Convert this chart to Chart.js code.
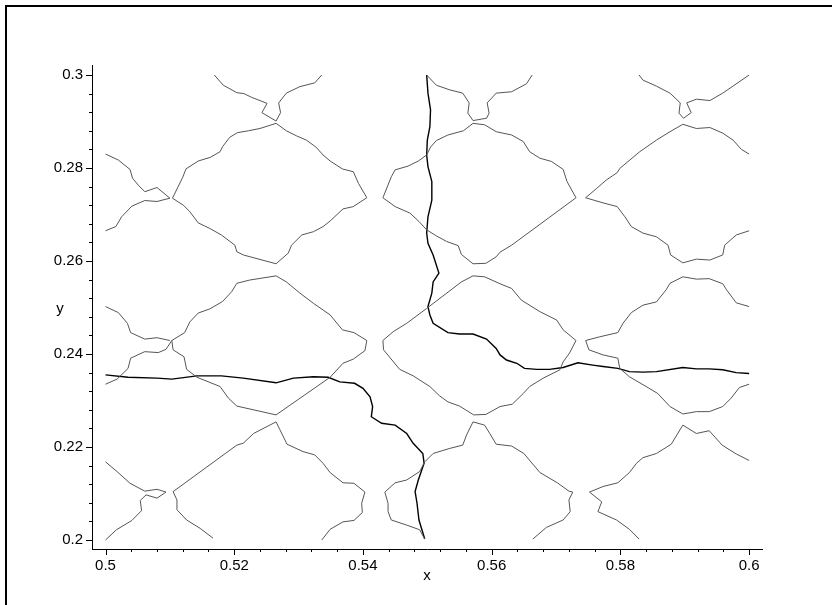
<!DOCTYPE html>
<html>
<head>
<meta charset="utf-8">
<script src="https://cdn.jsdelivr.net/npm/chart.js@4/dist/chart.umd.min.js"></script>
<style>
    html, body { margin: 0; padding: 0; background: #fff; overflow: hidden; }
    #wrap { position: relative; width: 832px; height: 605px; }
    #plot { position: absolute; left: 0; top: 0; }
    #frame {
        position: absolute; left: 5px; top: 5px; width: 900px; height: 700px;
        border: 2px solid #000; pointer-events: none;
    }
</style>
</head>
<body>
<div id="wrap">
    <canvas id="plot" width="832" height="605"></canvas>
    <div id="frame"></div>
</div>
<script>
// Axis ranges and tick labels
const xRange = [0.4979, 0.602];
const yRange = [0.19806, 0.30215];
const xMajorTicks = [0.5, 0.52, 0.54, 0.56, 0.58, 0.6];
const yMajorTicks = [0.2, 0.22, 0.24, 0.26, 0.28, 0.3];
const minorStep = 0.004;

// Level curves (grey) as [x, y]
const cupLeft = [[0.5169,0.3000],[0.5183,0.2978],[0.5204,0.2962],[0.5215,0.2960],[0.5227,0.2952],[0.5251,0.2939],[0.5243,0.2919],[0.5265,0.2901],[0.5272,0.2919],[0.5269,0.2940],[0.5281,0.2961],[0.5302,0.2975],[0.5325,0.2983],[0.5336,0.3000]];
const cupMiddle = [[0.5499,0.3000],[0.5514,0.2978],[0.5535,0.2968],[0.5555,0.2961],[0.5565,0.2940],[0.5563,0.2918],[0.5571,0.2902],[0.5592,0.2907],[0.5596,0.2918],[0.5593,0.2940],[0.5607,0.2961],[0.5631,0.2964],[0.5654,0.2981],[0.5663,0.3000]];
const cupRight = [[0.5829,0.3000],[0.5835,0.2989],[0.5856,0.2976],[0.5877,0.2961],[0.5893,0.2940],[0.5891,0.2918],[0.5898,0.2907],[0.5910,0.2919],[0.5903,0.2940],[0.5918,0.2948],[0.5939,0.2945],[0.5959,0.2961],[0.6000,0.3000]];

const topLeftDiamond = [[0.5104,0.2735],[0.5120,0.2780],[0.5125,0.2798],[0.5144,0.2815],[0.5163,0.2823],[0.5178,0.2835],[0.5182,0.2846],[0.5193,0.2866],[0.5205,0.2876],[0.5222,0.2880],[0.5240,0.2885],[0.5265,0.2896],[0.5281,0.2880],[0.5297,0.2869],[0.5312,0.2860],[0.5327,0.2845],[0.5338,0.2828],[0.5349,0.2815],[0.5368,0.2798],[0.5385,0.2792],[0.5393,0.2767],[0.5406,0.2736],[0.5385,0.2717],[0.5369,0.2712],[0.5349,0.2686],[0.5338,0.2674],[0.5323,0.2663],[0.5305,0.2656],[0.5289,0.2634],[0.5284,0.2617],[0.5265,0.2594],[0.5214,0.2613],[0.5204,0.2620],[0.5201,0.2634],[0.5180,0.2656],[0.5162,0.2670],[0.5144,0.2682],[0.5131,0.2706],[0.5121,0.2720],[0.5104,0.2735]];
const topMidDiamond = [[0.5431,0.2736],[0.5444,0.2781],[0.5450,0.2796],[0.5470,0.2804],[0.5486,0.2815],[0.5499,0.2828],[0.5505,0.2845],[0.5514,0.2859],[0.5532,0.2871],[0.5556,0.2880],[0.5571,0.2896],[0.5589,0.2893],[0.5607,0.2878],[0.5631,0.2871],[0.5649,0.2857],[0.5659,0.2835],[0.5675,0.2821],[0.5693,0.2814],[0.5711,0.2797],[0.5717,0.2771],[0.5731,0.2736],[0.5631,0.2634],[0.5613,0.2619],[0.5607,0.2609],[0.5591,0.2595],[0.5571,0.2594],[0.5553,0.2614],[0.5548,0.2633],[0.5530,0.2642],[0.5514,0.2654],[0.5499,0.2667],[0.5487,0.2685],[0.5473,0.2703],[0.5450,0.2717],[0.5431,0.2736]];
const topRightDiamond = [[0.6000,0.2830],[0.5988,0.2840],[0.5975,0.2860],[0.5959,0.2875],[0.5939,0.2887],[0.5918,0.2885],[0.5897,0.2894],[0.5877,0.2878],[0.5856,0.2860],[0.5830,0.2835],[0.5799,0.2799],[0.5795,0.2790],[0.5778,0.2774],[0.5763,0.2756],[0.5746,0.2736],[0.5773,0.2725],[0.5795,0.2717],[0.5807,0.2695],[0.5817,0.2674],[0.5835,0.2660],[0.5856,0.2652],[0.5874,0.2634],[0.5878,0.2613],[0.5897,0.2596],[0.5918,0.2604],[0.5939,0.2602],[0.5959,0.2613],[0.5962,0.2634],[0.5980,0.2656],[0.6000,0.2665]];

const pinchTopUpper = [[0.5000,0.2830],[0.5020,0.2817],[0.5038,0.2797],[0.5042,0.2778],[0.5051,0.2763],[0.5061,0.2749],[0.5080,0.2758],[0.5100,0.2735]];
const pinchTopLower = [[0.5000,0.2665],[0.5016,0.2674],[0.5025,0.2695],[0.5041,0.2718],[0.5061,0.2730],[0.5080,0.2728],[0.5100,0.2735]];
const pinchMidUpper = [[0.5000,0.2502],[0.5020,0.2489],[0.5034,0.2466],[0.5039,0.2446],[0.5061,0.2432],[0.5080,0.2435],[0.5100,0.2429]];
const pinchMidLower = [[0.5000,0.2335],[0.5018,0.2346],[0.5035,0.2369],[0.5039,0.2391],[0.5061,0.2405],[0.5082,0.2403],[0.5094,0.2410],[0.5103,0.2429]];
const pinchLow = [[0.5000,0.2168],[0.5018,0.2147],[0.5038,0.2122],[0.5061,0.2105],[0.5080,0.2109],[0.5094,0.2103],[0.5080,0.2090],[0.5063,0.2097],[0.5054,0.2085],[0.5056,0.2063],[0.5041,0.2042],[0.5017,0.2022],[0.5000,0.2000]];

const midLeftDiamond = [[0.5103,0.2429],[0.5123,0.2446],[0.5131,0.2469],[0.5144,0.2488],[0.5162,0.2497],[0.5182,0.2513],[0.5196,0.2534],[0.5204,0.2552],[0.5224,0.2559],[0.5265,0.2568],[0.5281,0.2555],[0.5302,0.2531],[0.5323,0.2509],[0.5349,0.2484],[0.5368,0.2452],[0.5386,0.2446],[0.5406,0.2429],[0.5403,0.2407],[0.5385,0.2389],[0.5369,0.2380],[0.5349,0.2350],[0.5265,0.2269],[0.5204,0.2288],[0.5191,0.2305],[0.5178,0.2330],[0.5142,0.2350],[0.5126,0.2367],[0.5122,0.2394],[0.5105,0.2409],[0.5103,0.2429]];
const midCenterDiamond = [[0.5431,0.2429],[0.5447,0.2448],[0.5468,0.2466],[0.5499,0.2498],[0.5553,0.2555],[0.5571,0.2568],[0.5589,0.2566],[0.5613,0.2551],[0.5631,0.2541],[0.5646,0.2516],[0.5675,0.2491],[0.5701,0.2473],[0.5711,0.2452],[0.5731,0.2429],[0.5721,0.2402],[0.5711,0.2383],[0.5706,0.2366],[0.5680,0.2348],[0.5659,0.2330],[0.5649,0.2315],[0.5632,0.2292],[0.5613,0.2287],[0.5591,0.2270],[0.5572,0.2269],[0.5550,0.2288],[0.5532,0.2297],[0.5519,0.2310],[0.5504,0.2330],[0.5478,0.2353],[0.5457,0.2367],[0.5432,0.2409],[0.5431,0.2429]];
const midRightDiamond = [[0.6000,0.2502],[0.5980,0.2510],[0.5965,0.2538],[0.5959,0.2551],[0.5938,0.2562],[0.5918,0.2561],[0.5897,0.2566],[0.5877,0.2552],[0.5871,0.2538],[0.5856,0.2512],[0.5835,0.2505],[0.5817,0.2489],[0.5804,0.2466],[0.5796,0.2446],[0.5768,0.2437],[0.5746,0.2429],[0.5751,0.2409],[0.5773,0.2398],[0.5796,0.2391],[0.5799,0.2369],[0.5814,0.2351],[0.5840,0.2330],[0.5858,0.2315],[0.5877,0.2287],[0.5897,0.2271],[0.5918,0.2276],[0.5938,0.2276],[0.5959,0.2287],[0.5972,0.2305],[0.5985,0.2328],[0.6000,0.2335]];

const lowLeftDiamond = [[0.5167,0.2004],[0.5147,0.2025],[0.5126,0.2043],[0.5111,0.2065],[0.5111,0.2086],[0.5105,0.2104],[0.5204,0.2204],[0.5214,0.2208],[0.5230,0.2229],[0.5265,0.2254],[0.5271,0.2237],[0.5282,0.2206],[0.5307,0.2190],[0.5325,0.2183],[0.5338,0.2165],[0.5349,0.2145],[0.5369,0.2123],[0.5386,0.2122],[0.5403,0.2103],[0.5398,0.2079],[0.5399,0.2059],[0.5386,0.2042],[0.5369,0.2039],[0.5349,0.2023],[0.5336,0.2000]];
const lowCenterDiamond = [[0.5496,0.2002],[0.5488,0.2022],[0.5468,0.2032],[0.5444,0.2043],[0.5439,0.2061],[0.5439,0.2079],[0.5434,0.2103],[0.5450,0.2123],[0.5468,0.2129],[0.5488,0.2147],[0.5496,0.2168],[0.5509,0.2186],[0.5535,0.2197],[0.5555,0.2204],[0.5561,0.2226],[0.5571,0.2254],[0.5589,0.2247],[0.5597,0.2229],[0.5607,0.2206],[0.5631,0.2202],[0.5650,0.2186],[0.5675,0.2145],[0.5702,0.2123],[0.5720,0.2105],[0.5726,0.2103],[0.5720,0.2086],[0.5722,0.2061],[0.5711,0.2043],[0.5685,0.2027],[0.5664,0.2002]];
const lowRightDiamond = [[0.5829,0.2002],[0.5814,0.2023],[0.5794,0.2043],[0.5765,0.2061],[0.5771,0.2082],[0.5752,0.2103],[0.5773,0.2115],[0.5796,0.2123],[0.5814,0.2145],[0.5825,0.2165],[0.5835,0.2177],[0.5856,0.2186],[0.5879,0.2206],[0.5897,0.2247],[0.5918,0.2229],[0.5938,0.2235],[0.5958,0.2204],[0.5980,0.2185],[0.6000,0.2171]];

// Solution paths (black)
const pathFromTop = [[0.5499,0.3000],[0.5501,0.2961],[0.5505,0.2925],[0.5504,0.2889],[0.5500,0.2860],[0.5499,0.2828],[0.5501,0.2803],[0.5507,0.2771],[0.5507,0.2731],[0.5501,0.2695],[0.5499,0.2660],[0.5501,0.2638],[0.5509,0.2613],[0.5518,0.2574],[0.5509,0.2555],[0.5507,0.2531],[0.5501,0.2502],[0.5504,0.2484],[0.5509,0.2466],[0.5532,0.2446],[0.5550,0.2443],[0.5571,0.2443],[0.5592,0.2432],[0.5607,0.2412],[0.5613,0.2398],[0.5623,0.2387],[0.5639,0.2380],[0.5651,0.2369],[0.5670,0.2367],[0.5690,0.2367],[0.5711,0.2371],[0.5734,0.2381],[0.5757,0.2376],[0.5773,0.2373],[0.5796,0.2369],[0.5814,0.2362],[0.5835,0.2361],[0.5856,0.2362],[0.5897,0.2371],[0.5918,0.2368],[0.5938,0.2368],[0.5959,0.2366],[0.5980,0.2360],[0.6000,0.2358]];
const pathFromLeft = [[0.5000,0.2355],[0.5035,0.2350],[0.5080,0.2348],[0.5103,0.2346],[0.5142,0.2353],[0.5180,0.2353],[0.5214,0.2348],[0.5265,0.2338],[0.5292,0.2348],[0.5323,0.2351],[0.5346,0.2350],[0.5364,0.2340],[0.5387,0.2337],[0.5400,0.2326],[0.5411,0.2308],[0.5415,0.2287],[0.5413,0.2265],[0.5429,0.2251],[0.5450,0.2247],[0.5468,0.2229],[0.5478,0.2208],[0.5493,0.2186],[0.5495,0.2165],[0.5486,0.2129],[0.5481,0.2104],[0.5484,0.2079],[0.5487,0.2043],[0.5496,0.2002]];

const greyCurves = [cupLeft, cupMiddle, cupRight, topLeftDiamond, topMidDiamond, topRightDiamond,
    pinchTopUpper, pinchTopLower, pinchMidUpper, pinchMidLower, pinchLow,
    midLeftDiamond, midCenterDiamond, midRightDiamond, lowLeftDiamond, lowCenterDiamond, lowRightDiamond];
const blackCurves = [pathFromTop, pathFromLeft];

const FONT = '"Liberation Sans", Arial, sans-serif';

function curve(points, color, width) {
    return {
        data: points.map((p) => ({ x: p[0], y: p[1] })),
        showLine: true,
        borderColor: color,
        borderWidth: width,
        pointRadius: 0,
        tension: 0,
        fill: false,
    };
}

function minorTicks(majors) {
    const out = [];
    for (let i = 0; i < majors.length - 1; i++) {
        for (let k = 1; k < 5; k++) out.push(majors[i] + k * minorStep);
    }
    return out;
}

// tick marks and the two axis names
const axisDecor = {
    id: "axisDecor",
    afterDraw(chart) {
        const ctx = chart.ctx;
        const area = chart.chartArea;
        const xs = chart.scales.x;
        const ys = chart.scales.y;
        ctx.save();
        ctx.strokeStyle = "#000";
        ctx.lineWidth = 1;
        ctx.beginPath();
        const mark = (ticks, len) => {
            ticks.forEach((v) => {
                const px = Math.round(xs.getPixelForValue(v)) + 0.5;
                ctx.moveTo(px, area.bottom);
                ctx.lineTo(px, area.bottom + len);
            });
        };
        const markY = (ticks, len) => {
            ticks.forEach((v) => {
                const py = Math.round(ys.getPixelForValue(v)) + 0.5;
                ctx.moveTo(area.left, py);
                ctx.lineTo(area.left - len, py);
            });
        };
        mark(xMajorTicks, 6);
        mark(minorTicks(xMajorTicks), 3);
        markY(yMajorTicks, 6);
        markY(minorTicks(yMajorTicks), 3);
        ctx.stroke();

        ctx.fillStyle = "#000";
        ctx.font = "15px " + FONT;
        ctx.textAlign = "center";
        ctx.textBaseline = "middle";
        ctx.fillText("x", (area.left + area.right) / 2, 576);
        ctx.fillText("y", 60, 309);
        ctx.restore();
    },
};

document.addEventListener("DOMContentLoaded", function () {
    const datasets = greyCurves.map((c) => curve(c, "#555", 1))
        .concat(blackCurves.map((c) => curve(c, "#000", 1.4)));

    new Chart(document.getElementById("plot").getContext("2d"), {
        type: "scatter",
        data: { datasets: datasets },
        options: {
            responsive: false,
            devicePixelRatio: 1,
            animation: false,
            layout: { padding: { top: 65, right: 70, left: 0, bottom: 0 } },
            plugins: { legend: { display: false }, tooltip: { enabled: false } },
            scales: {
                x: {
                    type: "linear",
                    min: xRange[0],
                    max: xRange[1],
                    afterBuildTicks: (s) => { s.ticks = xMajorTicks.map((v) => ({ value: v })); },
                    afterFit: (s) => { s.height = 56; },
                    grid: { display: false, drawTicks: false },
                    border: { display: true, color: "#000", width: 1 },
                    ticks: {
                        color: "#000",
                        padding: 8,
                        maxRotation: 0,
                        autoSkip: false,
                        font: { size: 15, family: FONT },
                        callback: (v) => String(v),
                    },
                },
                y: {
                    type: "linear",
                    min: yRange[0],
                    max: yRange[1],
                    afterBuildTicks: (s) => { s.ticks = yMajorTicks.map((v) => ({ value: v })); },
                    afterFit: (s) => { s.width = 92; },
                    grid: { display: false, drawTicks: false },
                    border: { display: true, color: "#000", width: 1 },
                    ticks: {
                        color: "#000",
                        padding: 9,
                        autoSkip: false,
                        font: { size: 15, family: FONT },
                        callback: (v) => String(v),
                    },
                },
            },
        },
        plugins: [axisDecor],
    });
});
</script>
</body>
</html>
